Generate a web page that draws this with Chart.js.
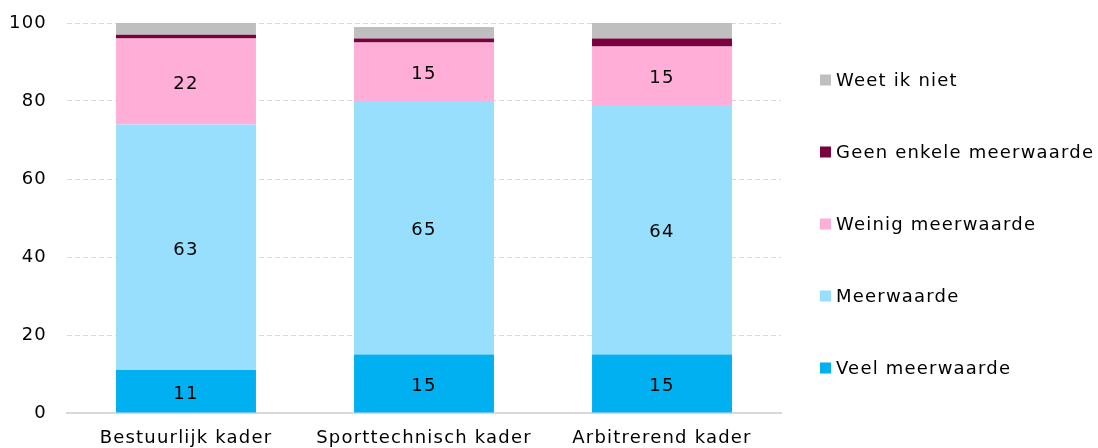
<!DOCTYPE html>
<html>
<head>
<meta charset="utf-8">
<script src="https://cdn.jsdelivr.net/npm/chart.js@4/dist/chart.umd.min.js"></script>
<style>
  html, body { margin: 0; padding: 0; background: #fff; }
  #wrap { width: 1098px; height: 448px; position: relative; }
</style>
</head>
<body>
<div id="wrap"><canvas id="c"></canvas></div>
<script>
// Categories and survey shares (%)
const categories = ['Bestuurlijk kader', 'Sporttechnisch kader', 'Arbitrerend kader'];
const veelMeerwaarde = [11, 15, 15];
const meerwaarde = [63, 65, 64];
const weinigMeerwaarde = [22, 15, 15];
const geenEnkeleMeerwaarde = [1, 1, 2];
const weetIkNiet = [3, 3, 4];
const yTicks = [0, 20, 40, 60, 80, 100];

const FONT = 'DejaVu Sans';

// Slightly tracked lettering for all canvas text
const tracking = {
  id: 'tracking',
  beforeUpdate(chart) { chart.ctx.letterSpacing = '1.2px'; },
  beforeDraw(chart) { chart.ctx.letterSpacing = '1.2px'; }
};

// Value labels centred inside the segments
const segmentLabels = {
  id: 'segmentLabels',
  afterDatasetsDraw(chart) {
    const ctx = chart.ctx;
    ctx.save();
    ctx.letterSpacing = '1.2px';
    ctx.font = '18px "' + FONT + '"';
    ctx.fillStyle = '#000';
    ctx.textAlign = 'center';
    ctx.textBaseline = 'middle';
    chart.data.datasets.forEach((ds, i) => {
      if (!ds.showValue) return;
      chart.getDatasetMeta(i).data.forEach((el, j) => {
        const { x, y, base } = el.getProps(['x', 'y', 'base'], true);
        ctx.fillText(String(ds.data[j]), x, (y + base) / 2 + 3);
      });
    });
    ctx.restore();
  }
};

// Legend on the right, last series on top
const sideLegend = {
  id: 'sideLegend',
  afterDraw(chart, args, opts) {
    const ctx = chart.ctx;
    ctx.save();
    ctx.letterSpacing = '1.2px';
    ctx.font = '18px "' + FONT + '"';
    ctx.textBaseline = 'middle';
    ctx.textAlign = 'left';
    const items = chart.data.datasets.slice().reverse();
    items.forEach((ds, k) => {
      const cy = opts.top + k * opts.step;
      ctx.fillStyle = ds.backgroundColor;
      ctx.fillRect(opts.left, cy - 5.5, 11, 11);
      ctx.fillStyle = '#000';
      ctx.fillText(ds.label, opts.left + 16, cy + 1);
    });
    ctx.restore();
  }
};

new Chart(document.getElementById('c'), {
  type: 'bar',
  data: {
    labels: categories,
    datasets: [
      { label: 'Veel meerwaarde', data: veelMeerwaarde, backgroundColor: '#00B0F0', showValue: true },
      { label: 'Meerwaarde', data: meerwaarde, backgroundColor: '#97DFFC', showValue: true },
      { label: 'Weinig meerwaarde', data: weinigMeerwaarde, backgroundColor: '#FFAFD7', showValue: true },
      { label: 'Geen enkele meerwaarde', data: geenEnkeleMeerwaarde, backgroundColor: '#7B003E' },
      { label: 'Weet ik niet', data: weetIkNiet, backgroundColor: '#BFBFBF' }
    ]
  },
  options: {
    responsive: true,
    maintainAspectRatio: false,
    animation: false,
    layout: { padding: { top: 23, right: 317, bottom: 0, left: 0 } },
    datasets: { bar: { categoryPercentage: 1, barPercentage: 0.588, borderWidth: 0 } },
    plugins: {
      legend: { display: false },
      tooltip: { enabled: false },
      sideLegend: { left: 820, top: 80, step: 72 }
    },
    scales: {
      x: {
        stacked: true,
        grid: { display: false, drawTicks: false },
        border: { display: true, color: '#D9D9D9', width: 2 },
        ticks: { color: '#000', font: { family: FONT, size: 18 }, padding: 15, maxRotation: 0 },
        afterFit(scale) { scale.height = 35; }
      },
      y: {
        stacked: true,
        min: 0,
        max: 100,
        afterBuildTicks(scale) { scale.ticks = yTicks.map(v => ({ value: v })); },
        grid: {
          drawTicks: false,
          color: ctx => (ctx.tick && ctx.tick.value === 0) ? 'rgba(0,0,0,0)' : '#D9D9D9',
          lineWidth: 1
        },
        border: { display: false, dash: [5, 3] },
        ticks: { color: '#000', font: { family: FONT, size: 18 }, padding: 20 },
        afterFit(scale) {
          scale.width = 67;
          scale.paddingTop = 10;
          scale.paddingBottom = 0;
        }
      }
    }
  },
  plugins: [tracking, segmentLabels, sideLegend]
});
</script>
</body>
</html>
